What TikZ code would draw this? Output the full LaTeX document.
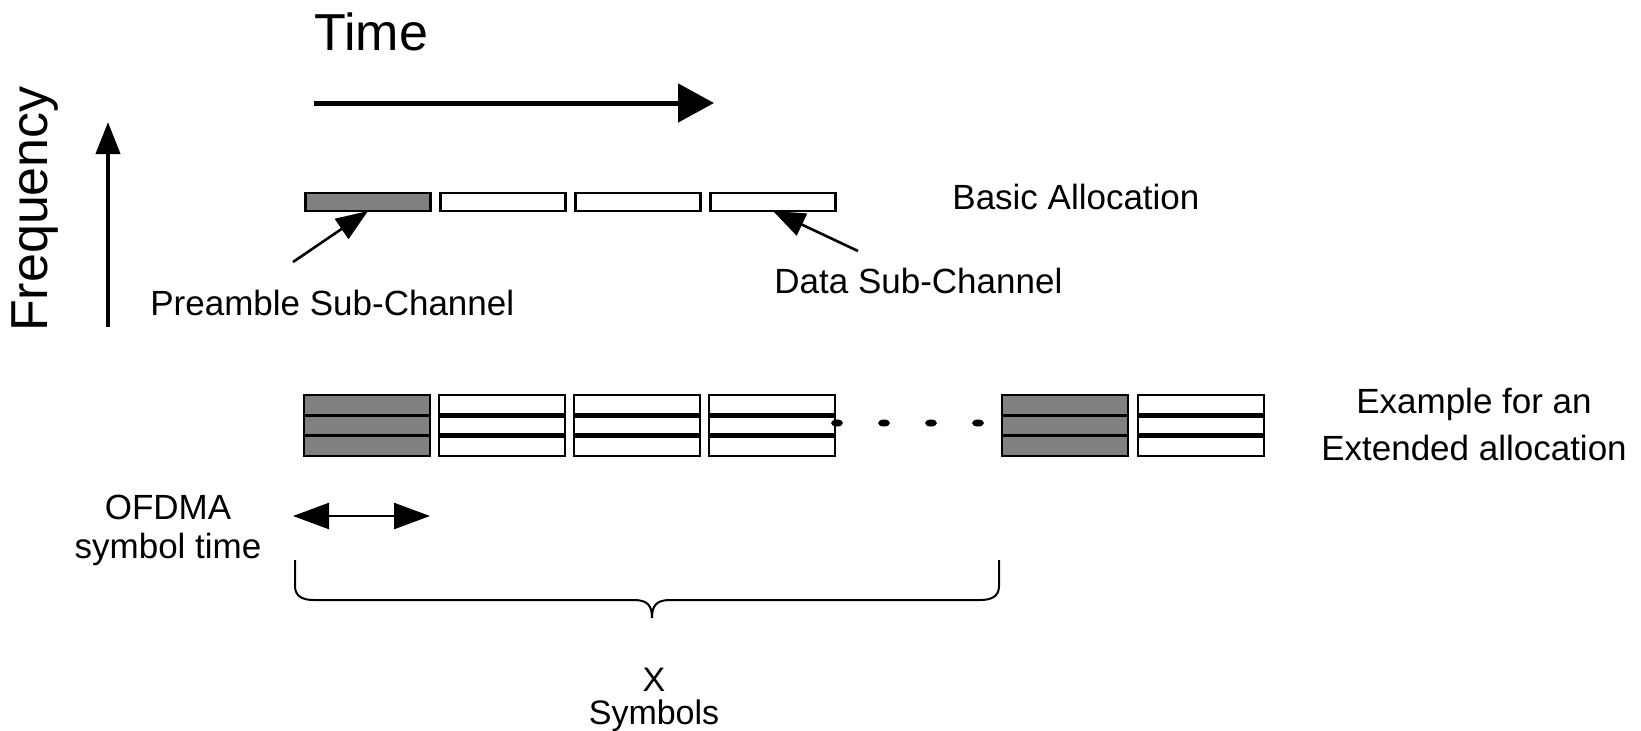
\documentclass[tikz,border=0pt]{standalone}
\usepackage{fontspec}
\setmainfont{Liberation Sans}
\usetikzlibrary{positioning}
\usetikzlibrary{arrows.meta}
\usetikzlibrary{calc}

\definecolor{slotgray}{gray}{0.5}

\tikzset{
  lbl/.style={font=\fontsize{17.5}{21}\selectfont, inner sep=0pt},
  biglbl/.style={font=\fontsize{26}{30}\selectfont, inner sep=0pt},
  slot/.style={draw, line width=1.4pt, minimum width=62.5pt, minimum height=9pt, inner sep=0pt, outer sep=0pt},
  blk/.style={draw, line width=1.4pt, minimum width=63pt, minimum height=30.5pt, inner sep=0pt, outer sep=0pt},
  pointer/.style={line width=1.3pt, -{Triangle[length=16pt,width=12pt]}},
}

\begin{document}
\begin{tikzpicture}[x=0.5pt, y=-0.5pt]
  \useasboundingbox (0,0) rectangle (1641,730);

  % time and frequency axes
  \node[biglbl, anchor=base west] (time) at (314,50) {Time};
  \coordinate (t0) at (314,103);
  \coordinate (t1) at (714,103);
  \draw[line width=2.5pt, -{Triangle[length=18pt,width=19pt]}] (t0) -- (t1);

  \node[biglbl, rotate=90] (freq) at (35,209) {Frequency};
  \coordinate (f0) at (108,327);
  \coordinate (f1) at (108,122);
  \draw[line width=2pt, -{Triangle[length=16pt,width=12pt]}] (f0) -- (f1);

  % basic allocation
  \foreach \i/\x in {0/368, 1/503, 2/638, 3/773} {
    \node[slot] (b\i) at (\x,202) {};
  }
  \fill[slotgray] (b0.north west) rectangle (b0.south east);
  \draw[line width=1.4pt] (b0.north west) rectangle (b0.south east);
  \node[lbl, anchor=base west] (basic) at (952,209) {Basic Allocation};

  \node[lbl, anchor=base west] (pre) at (150,315) {Preamble Sub-Channel};
  \coordinate (pre0) at (293,262);
  \draw[pointer] (pre0) -- (b0.south);

  \node[lbl, anchor=base west] (data) at (774,293) {Data Sub-Channel};
  \coordinate (data0) at (858,251);
  \draw[pointer] (data0) -- (b3.south);

  % extended allocation
  \foreach \i/\x/\c in {0/367/slotgray, 1/502/white, 2/637/white, 3/772/white, 4/1065/slotgray, 5/1201/white} {
    \node[blk, fill=\c] (e\i) at (\x,425.5) {};
  }
  \foreach \i in {0,4} {
    \draw[line width=1.4pt] ($(e\i.north west)!1/3!(e\i.south west)$) -- ($(e\i.north east)!1/3!(e\i.south east)$);
    \draw[line width=1.4pt] ($(e\i.north west)!2/3!(e\i.south west)$) -- ($(e\i.north east)!2/3!(e\i.south east)$);
  }
  \foreach \i in {1,2,3,5} {
    \draw[line width=2.8pt] ($(e\i.north west)!1/3!(e\i.south west)$) -- ($(e\i.north east)!1/3!(e\i.south east)$);
    \draw[line width=2.8pt] ($(e\i.north west)!2/3!(e\i.south west)$) -- ($(e\i.north east)!2/3!(e\i.south east)$);
  }
  \foreach \x in {837,884,931,978} {
    \fill (\x,423) ellipse (6 and 3.5);
  }
  \node[lbl, align=center, font=\fontsize{17.5}{23.5}\selectfont] (ext) at (1474,424) {Example for an\\Extended allocation};

  % symbol time and brace
  \node[lbl, align=center, font=\fontsize{17.5}{19.5}\selectfont] (ofdma) at (168,530) {OFDMA\\symbol time};
  \coordinate (s0) at (293,516);
  \coordinate (s1) at (430,516);
  \draw[line width=1.25pt, {Triangle[length=18pt,width=13pt]}-{Triangle[length=18pt,width=13pt]}] (s0) -- (s1);

  \draw[line width=1pt] (295,560) -- (295,586) .. controls (295,596) and (302,600) .. (314,600)
    -- (634,600) .. controls (648,600) and (652,606) .. (652,618)
    .. controls (652,606) and (656,600) .. (670,600)
    -- (980,600) .. controls (992,600) and (999,596) .. (999,586) -- (999,560);
  \node[lbl, align=center, font=\fontsize{17}{16.5}\selectfont] (xsym) at (654,700) {X\\Symbols};
\end{tikzpicture}
\end{document}
